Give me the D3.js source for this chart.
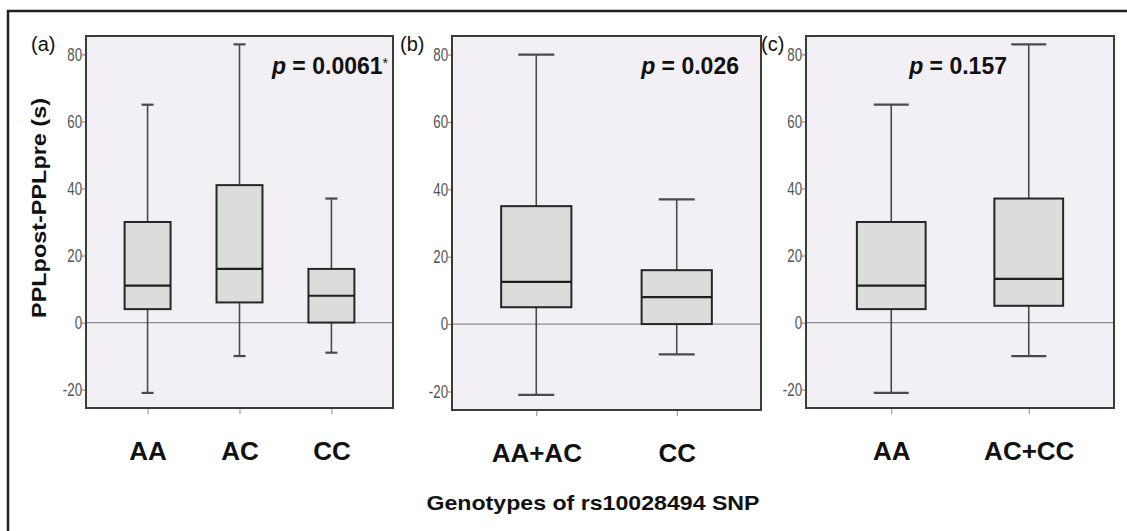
<!DOCTYPE html>
<html>
<head>
<meta charset="utf-8">
<script src="https://cdn.jsdelivr.net/npm/d3@7"></script>
<style>
  html, body { margin: 0; padding: 0; background: #fff; }
  svg { display: block; }
</style>
</head>
<body>
<svg id="chart" width="1127" height="531"></svg>
<script>
// ---- data ----
const panelLetters = ["(a)", "(b)", "(c)"];
const pValues = ["0.0061", "0.026", "0.157"];
const pStars = ["*", "", ""];
const catsA = ["AA", "AC", "CC"];
const catsB = ["AA+AC", "CC"];
const catsC = ["AA", "AC+CC"];
// [min, Q1, median, Q3, max] for each category
const boxesA = [[-21, 4, 11, 30, 65], [-10, 6, 16, 41, 83], [-9, 0, 8, 16, 37]];
const boxesB = [[-21, 5, 12.5, 35, 80], [-9, 0, 8, 16, 37]];
const boxesC = [[-21, 4, 11, 30, 65], [-10, 5, 13, 37, 83]];
const yTicks = [-20, 0, 20, 40, 60, 80];
const yDomain = [-25.5, 85.5];
const yTitle = "PPLpost-PPLpre (s)";
const xTitle = "Genotypes of rs10028494 SNP";

const svg = d3.select("#chart");

// outer frame (cropped box)
svg.append("path")
  .attr("d", "M8,531 L8,11 L1127,11")
  .attr("fill", "none").attr("stroke", "#231f20").attr("stroke-width", 2.5);

const panels = [
  { cats: catsA, boxes: boxesA, x0: 86, x1: 393, y0: 36, y1: 408, pad: 0.67, cap: 12, pX: 388, letterX: 31 },
  { cats: catsB, boxes: boxesB, x0: 452, x1: 761, y0: 36, y1: 410, pad: 0.6, cap: 36, pX: 739, letterX: 400 },
  { cats: catsC, boxes: boxesC, x0: 806, x1: 1114, y0: 36, y1: 408, pad: 0.62, cap: 35, pX: 1007, letterX: 761 }
];

panels.forEach((p, i) => {
  const g = svg.append("g");
  const x = d3.scalePoint().domain(p.cats).range([p.x0, p.x1]).padding(p.pad);
  const y = d3.scaleLinear().domain(yDomain).range([p.y1, p.y0]);
  const bw = x.step() * 0.5;

  // plot background
  g.append("rect")
    .attr("x", p.x0).attr("y", p.y0)
    .attr("width", p.x1 - p.x0).attr("height", p.y1 - p.y0)
    .attr("fill", "#f2f0f5");

  // zero reference line
  g.append("line")
    .attr("x1", p.x0).attr("x2", p.x1)
    .attr("y1", y(0)).attr("y2", y(0))
    .attr("stroke", "#8c8c8c").attr("stroke-width", 1.2);

  // boxes
  p.cats.forEach((c, j) => {
    const [mn, q1, md, q3, mx] = p.boxes[j];
    const cx = x(c);
    const bg = g.append("g");
    bg.append("line").attr("x1", cx).attr("x2", cx).attr("y1", y(q3)).attr("y2", y(mx))
      .attr("stroke", "#4a4a4a").attr("stroke-width", 1.6);
    bg.append("line").attr("x1", cx).attr("x2", cx).attr("y1", y(q1)).attr("y2", y(mn))
      .attr("stroke", "#4a4a4a").attr("stroke-width", 1.6);
    bg.append("line").attr("x1", cx - p.cap / 2).attr("x2", cx + p.cap / 2).attr("y1", y(mx)).attr("y2", y(mx))
      .attr("stroke", "#4a4a4a").attr("stroke-width", 2.2);
    bg.append("line").attr("x1", cx - p.cap / 2).attr("x2", cx + p.cap / 2).attr("y1", y(mn)).attr("y2", y(mn))
      .attr("stroke", "#4a4a4a").attr("stroke-width", 2.2);
    bg.append("rect")
      .attr("x", cx - bw / 2).attr("y", y(q3))
      .attr("width", bw).attr("height", y(q1) - y(q3))
      .attr("fill", "#dcdcdc").attr("stroke", "#262626").attr("stroke-width", 2);
    bg.append("line").attr("x1", cx - bw / 2).attr("x2", cx + bw / 2).attr("y1", y(md)).attr("y2", y(md))
      .attr("stroke", "#1e1e1e").attr("stroke-width", 2.2);
  });

  // frame
  g.append("rect")
    .attr("x", p.x0).attr("y", p.y0)
    .attr("width", p.x1 - p.x0).attr("height", p.y1 - p.y0)
    .attr("fill", "none").attr("stroke", "#3a3a3a").attr("stroke-width", 2);

  // y axis
  const ya = g.append("g").attr("transform", `translate(${p.x0 - 1},0)`)
    .call(d3.axisLeft(y).tickValues(yTicks).tickSize(3).tickPadding(1).tickFormat(d => String(d)));
  ya.select(".domain").remove();
  ya.selectAll("line").attr("stroke", "#777");
  ya.selectAll("text")
    .attr("fill", "#555")
    .attr("transform", "scale(0.74,1)")
    .style("font-family", "'Liberation Sans', Arial, sans-serif")
    .style("font-size", "18px");

  // x axis
  const xa = g.append("g").attr("transform", `translate(0,${p.y1 + 1})`)
    .call(d3.axisBottom(x).tickSize(5).tickPadding(28));
  xa.select(".domain").remove();
  xa.selectAll("line").attr("stroke", "#888");
  xa.selectAll("text")
    .attr("fill", "#111")
    .style("font-family", "'Liberation Sans', Arial, sans-serif")
    .style("font-weight", "bold")
    .style("font-size", "26px");

  // panel letter
  svg.append("text")
    .attr("x", p.letterX).attr("y", 51)
    .style("font-family", "'Liberation Sans', Arial, sans-serif")
    .style("font-size", "20px")
    .attr("fill", "#111")
    .text(panelLetters[i]);

  // p value
  const pt = svg.append("text")
    .attr("x", p.pX).attr("y", 74)
    .attr("text-anchor", "end")
    .style("font-family", "'Liberation Sans', Arial, sans-serif")
    .style("font-weight", "bold")
    .style("font-size", "23px")
    .attr("fill", "#111");
  pt.append("tspan").style("font-style", "italic").text("p");
  pt.append("tspan").text(" = " + pValues[i]);
  if (pStars[i]) {
    pt.append("tspan").attr("dy", -6).style("font-size", "14px").style("font-weight", "normal").text(pStars[i]);
  }
});

// y title
svg.append("text")
  .attr("transform", "translate(46,208) rotate(-90)")
  .attr("text-anchor", "middle")
  .style("font-family", "'Liberation Sans', Arial, sans-serif")
  .style("font-weight", "bold")
  .style("font-size", "21px")
  .attr("textLength", 220)
  .attr("lengthAdjust", "spacingAndGlyphs")
  .attr("fill", "#111")
  .text(yTitle);

// x title
svg.append("text")
  .attr("x", 593).attr("y", 510)
  .attr("text-anchor", "middle")
  .style("font-family", "'Liberation Sans', Arial, sans-serif")
  .style("font-weight", "bold")
  .style("font-size", "21px")
  .attr("textLength", 333)
  .attr("lengthAdjust", "spacingAndGlyphs")
  .attr("fill", "#111")
  .text(xTitle);
</script>
</body>
</html>
